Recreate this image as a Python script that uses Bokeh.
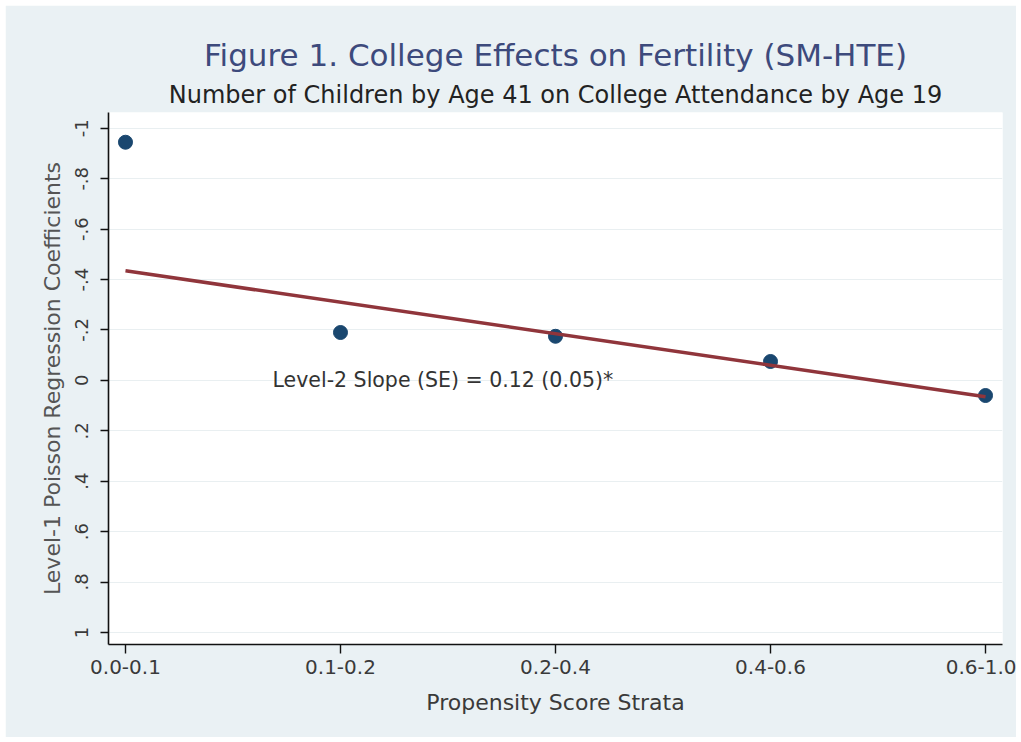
from bokeh.plotting import figure
from bokeh.models import Range1d, FixedTicker, Label, Title
from bokeh.embed import file_html
from bokeh.resources import INLINE

# ---- data ----
strata = ["0.0-0.1", "0.1-0.2", "0.2-0.4", "0.4-0.6", "0.6-1.0"]
coefficients = [-0.945, -0.19, -0.175, -0.075, 0.06]
fit_ends = [-0.435, 0.065]  # level-2 fitted line at first and last stratum
y_ticks = [-1.0, -0.8, -0.6, -0.4, -0.2, 0.0, 0.2, 0.4, 0.6, 0.8, 1.0]
y_tick_labels = ["-1", "-.8", "-.6", "-.4", "-.2", "0", ".2", ".4", ".6", ".8", "1"]

title_text = "Figure 1. College Effects on Fertility (SM-HTE)"
subtitle_text = "Number of Children by Age 41 on College Attendance by Age 19"
note_text = "Level-2 Slope (SE) = 0.12 (0.05)*"
x_label = "Propensity Score Strata"
y_label = "Level-1 Poisson Regression Coefficients"

FONT = "DejaVu Sans"
BG = "#eaf1f4"

xs = list(range(len(strata)))

p = figure(width=1011, height=732, output_backend="svg", toolbar_location=None,
           margin=(5, 5, 5, 5),
           x_range=Range1d(-0.079, len(strata) - 1 + 0.079),
           y_range=Range1d(1.048, -1.063),
           min_border_left=103, min_border_right=14,
           min_border_top=107, min_border_bottom=93,
           background_fill_color="white", border_fill_color=BG,
           outline_line_color=None)

# grid
p.xgrid.visible = False
p.ygrid.ticker = FixedTicker(ticks=y_ticks)
p.ygrid.grid_line_color = "#e9eff1"
p.ygrid.grid_line_width = 1

# x axis
p.xaxis.ticker = FixedTicker(ticks=xs)
p.xaxis.major_label_overrides = {i: s for i, s in zip(xs, strata)}
p.xaxis.axis_label = x_label
p.xaxis.minor_tick_line_color = None
p.xaxis.major_tick_out = 9
p.xaxis.major_tick_in = 0
p.xaxis.major_label_standoff = 6
p.xaxis.axis_label_standoff = 13

# y axis
p.yaxis.ticker = FixedTicker(ticks=y_ticks)
p.yaxis.major_label_overrides = dict(zip(y_ticks, y_tick_labels))
p.yaxis.major_label_orientation = "parallel"
p.yaxis.axis_label = y_label
p.yaxis.minor_tick_line_color = None
p.yaxis.major_tick_out = 8
p.yaxis.major_tick_in = 0
p.yaxis.major_label_standoff = 12
p.yaxis.axis_label_standoff = 8

for ax in (p.xaxis, p.yaxis):
    ax.axis_line_color = "#111111"
    ax.axis_line_width = 1.6
    ax.major_tick_line_color = "#111111"
    ax.major_tick_line_width = 1.4
    ax.major_label_text_font = FONT
    ax.axis_label_text_font = FONT
    ax.axis_label_text_font_style = "normal"
    ax.major_label_text_color = "#3a3a3a"
    ax.axis_label_text_color = "#3a3a3a"

p.xaxis.major_label_text_font_size = "20px"
p.xaxis.axis_label_text_font_size = "22px"
p.yaxis.major_label_text_font_size = "18px"
p.yaxis.axis_label_text_font_size = "22px"
p.yaxis.axis_label_text_color = "#555555"

# marks
p.scatter(x=xs, y=coefficients, size=14, color="#1a476f")
p.line(x=[xs[0], xs[-1]], y=fit_ends, line_color="#90353b", line_width=3.5)

# annotation
p.add_layout(Label(x=0.684, y=0.0, text=note_text, text_align="left",
                   text_baseline="middle", text_font=FONT,
                   text_font_size="20.5px", text_color="#333333"))

# titles (subtitle first: nearest to the plot)
p.add_layout(Title(text=subtitle_text, align="center", text_font=FONT,
                   text_font_size="24px", text_font_style="normal",
                   text_color="#222222", standoff=7), "above")
p.add_layout(Title(text=title_text, align="center", text_font=FONT,
                   text_font_size="31px", text_font_style="normal",
                   text_color="#3d4a7c", standoff=5), "above")

open("out.html", "w").write(file_html(p, INLINE))
